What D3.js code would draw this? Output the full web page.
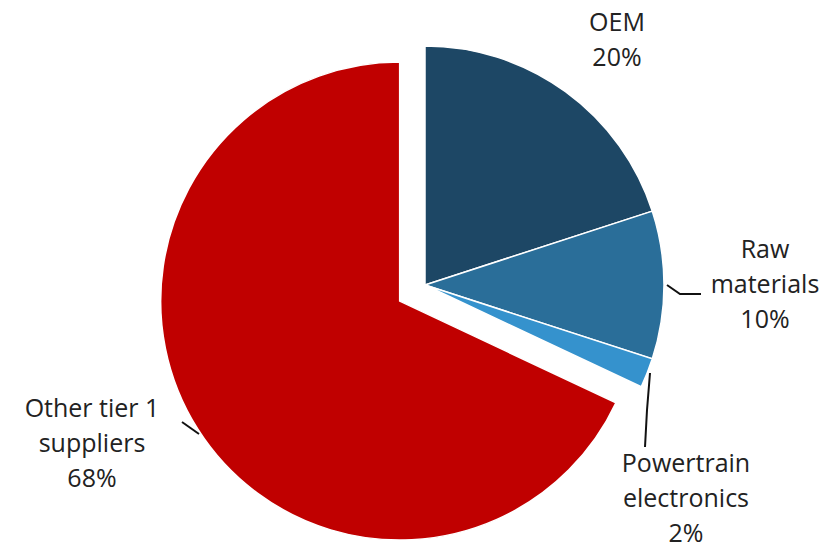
<!DOCTYPE html>
<html>
<head>
<meta charset="utf-8">
<script src="https://cdn.jsdelivr.net/npm/d3@7"></script>
<style>
  body { margin: 0; background: white; }
  svg text { font-family: "Open Sans", sans-serif; fill: #222; }
</style>
</head>
<body>
<svg id="chart" width="837" height="548"></svg>
<script>
// data
var labels = ['OEM', 'Raw materials', 'Powertrain electronics', 'Other tier 1 suppliers'];
var values = [20, 10, 2, 68];
var colors = ['#1d4765', '#2a6e99', '#3592cd', '#c00000'];

var width = 837, height = 548;
var cx = 425, cy = 285, radius = 239;
var explode = 30; // the red slice is pulled out
var fs = 25;

var svg = d3.select('#chart');

var pie = d3.pie().sort(null).value(function(d){ return d.value; });
var arcs = pie(labels.map(function(l, i){
  return { label: l, value: values[i], color: colors[i] };
}));

var arc = d3.arc().innerRadius(0).outerRadius(radius);

var g = svg.append('g').attr('transform', 'translate(' + cx + ',' + cy + ')');

g.selectAll('path')
  .data(arcs)
  .enter()
  .append('path')
  .attr('d', arc)
  .style('fill', function(d){ return d.data.color; })
  .style('stroke', 'white')
  .style('stroke-width', 1.5)
  .attr('transform', function(d){
    if (d.data.label.indexOf('Other') !== 0) return null;
    var mid = (d.startAngle + d.endAngle) / 2;
    return 'translate(' + (Math.sin(mid) * explode) + ',' + (-Math.cos(mid) * explode) + ')';
  });

// label text, one line per entry
var label_lines = [
  ['OEM', '20%'],
  ['Raw', 'materials', '10%'],
  ['Powertrain', 'electronics', '2%'],
  ['Other tier 1', 'suppliers', '68%']
];
// where each label block sits (x centre, first baseline)
var label_pos = [[617, 31], [765, 258], [686, 472], [92, 417]];
var line_h = 35;

label_lines.forEach(function(lines, i){
  var t = svg.append('text')
    .style('font-size', fs + 'px')
    .style('text-anchor', 'middle');
  lines.forEach(function(s, j){
    t.append('tspan')
      .attr('x', label_pos[i][0])
      .attr('y', label_pos[i][1] + j * line_h)
      .text(s);
  });
});

// leader lines
var leaders = [
  [[667, 285], [680, 294], [701, 294]],
  [[650, 373], [647, 410], [645, 447]],
  [[182, 422], [199, 434]]
];
svg.selectAll('path.leader')
  .data(leaders)
  .enter()
  .append('path')
  .attr('class', 'leader')
  .attr('d', d3.line())
  .style('fill', 'none')
  .style('stroke', '#111')
  .style('stroke-width', 2);
</script>
</body>
</html>
